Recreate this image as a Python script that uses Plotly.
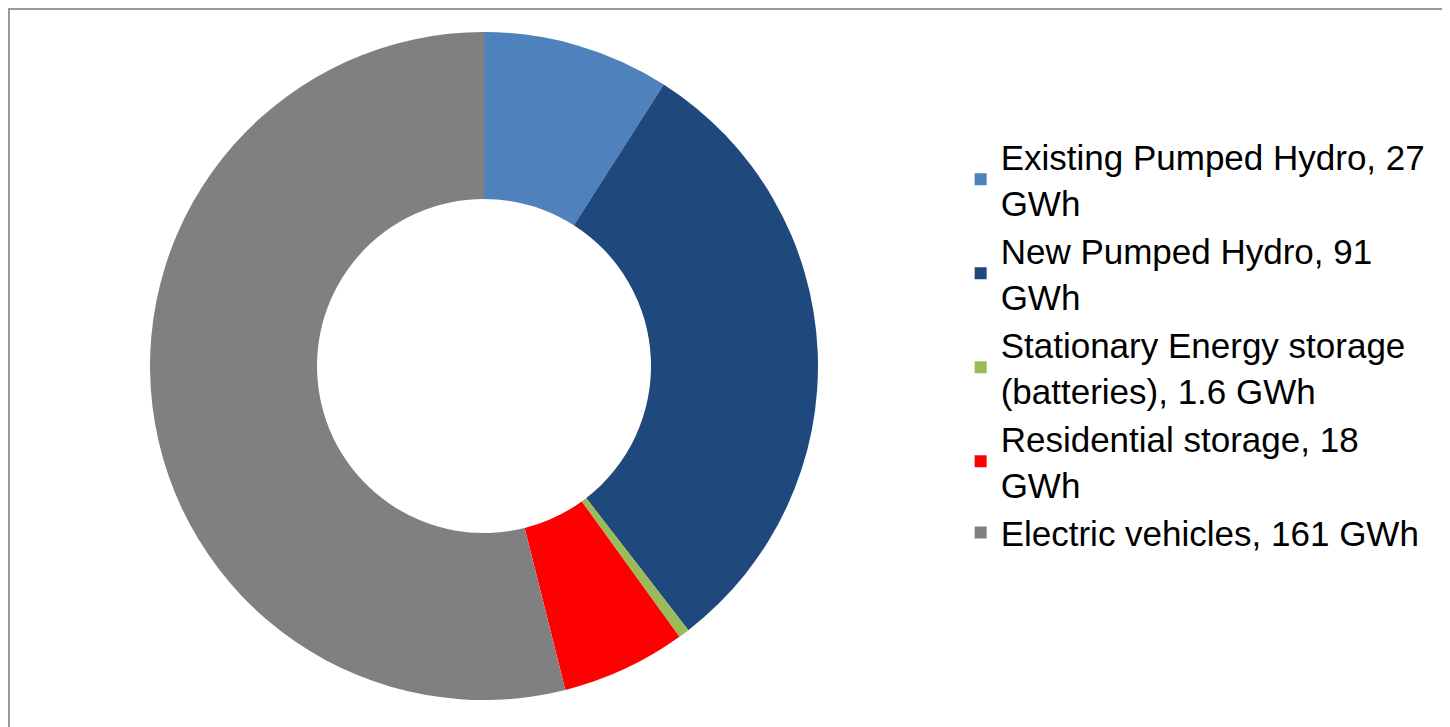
import plotly.graph_objects as go

labels = [
    "Existing Pumped Hydro, 27<br>GWh",
    "New Pumped Hydro, 91<br>GWh",
    "Stationary Energy storage<br>(batteries), 1.6 GWh",
    "Residential storage, 18<br>GWh",
    "Electric vehicles, 161 GWh",
]
values = [27, 91, 1.6, 18, 161]
colors = ["#4F81BD", "#1F497D", "#9BBB59", "#FF0000", "#808080"]

W, H = 1450, 727
# page body has an 8px margin; positions below are in figure (paper) pixels
cx, cy, r = 476, 358, 334

fig = go.Figure(go.Pie(
    labels=labels,
    values=values,
    hole=0.5,
    sort=False,
    direction="clockwise",
    rotation=0,
    textinfo="none",
    marker=dict(colors=colors, line=dict(width=0)),
    domain=dict(x=[(cx - r) / W, (cx + r) / W], y=[(H - cy - r) / H, (H - cy + r) / H]),
))

fig.update_layout(
    width=W, height=H,
    margin=dict(l=0, r=0, t=0, b=0),
    paper_bgcolor="white",
    plot_bgcolor="white",
    font=dict(family="Liberation Sans, Arial, sans-serif", color="#000000"),
    legend=dict(
        x=0.657, y=0.836, xanchor="left", yanchor="top",
        font=dict(size=35, family="Liberation Sans, Arial, sans-serif", color="#000000"),
        bgcolor="rgba(0,0,0,0)",
    ),
    shapes=[
        dict(type="line", xref="paper", yref="paper", x0=0, x1=1.0, y0=1 - 1 / H, y1=1 - 1 / H,
             line=dict(color="#9a9a9a", width=2)),
        dict(type="line", xref="paper", yref="paper", x0=1 / W, x1=1 / W, y0=0, y1=1,
             line=dict(color="#9a9a9a", width=2)),
    ],
)

fig.write_html("out.html")
